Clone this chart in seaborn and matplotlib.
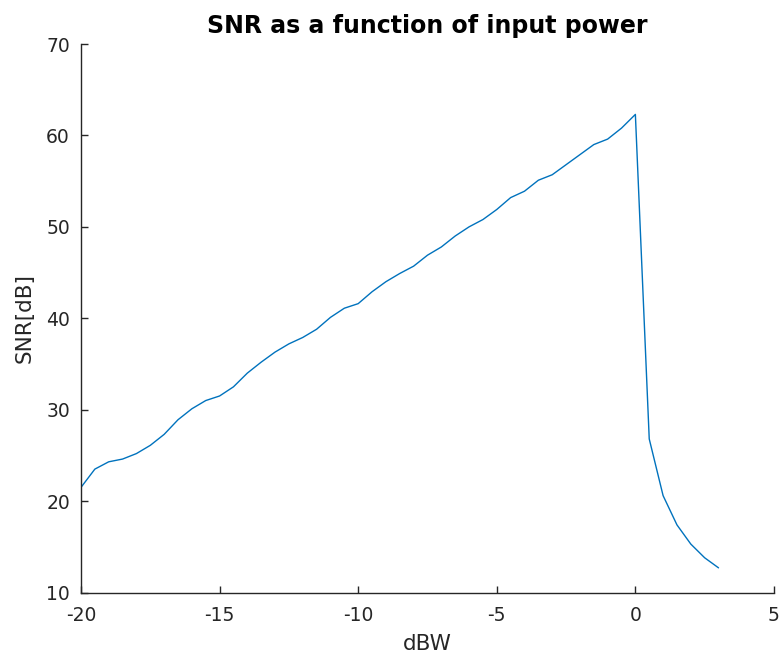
import numpy as np
import pandas as pd
import matplotlib
matplotlib.use("Agg")
import matplotlib.pyplot as plt
import seaborn as sns

input_power_dbw = [-20, -19.5, -19, -18.5, -18, -17.5, -17, -16.5, -16, -15.5,
                   -15, -14.5, -14, -13.5, -13, -12.5, -12, -11.5, -11, -10.5,
                   -10, -9.5, -9, -8.5, -8, -7.5, -7, -6.5, -6, -5.5,
                   -5, -4.5, -4, -3.5, -3, -2.5, -2, -1.5, -1, -0.5,
                   0, 0.5, 1, 1.5, 2, 2.5, 3]
snr_db = [21.5, 23.5, 24.3, 24.6, 25.2, 26.1, 27.3, 28.9, 30.1, 31.0,
          31.5, 32.5, 34.0, 35.2, 36.3, 37.2, 37.9, 38.8, 40.1, 41.1,
          41.6, 42.9, 44.0, 44.9, 45.7, 46.9, 47.8, 49.0, 50.0, 50.8,
          51.9, 53.2, 53.9, 55.1, 55.7, 56.8, 57.9, 59.0, 59.6, 60.8,
          62.3, 26.8, 20.6, 17.4, 15.3, 13.8, 12.7]

x_ticks = [-20, -15, -10, -5, 0, 5]
y_ticks = [10, 20, 30, 40, 50, 60, 70]

sns.set_style("ticks")
plt.rcParams['font.family'] = ['DejaVu Sans']

df = pd.DataFrame({"dBW": input_power_dbw, "SNR": snr_db})

fig = plt.figure(figsize=(7.81, 6.58), dpi=100)
ax = fig.add_axes([0.1037, 0.0995, 0.8873, 0.8336])
sns.lineplot(data=df, x="dBW", y="SNR", ax=ax, color="#0072BD", linewidth=1.0)

ax.set_xlim(-20, 5)
ax.set_ylim(10, 70)
ax.set_xticks(x_ticks)
ax.set_yticks(y_ticks)
ax.set_xticklabels([f"{t:g}" for t in x_ticks])
ax.set_yticklabels([f"{t:g}" for t in y_ticks])
ax.tick_params(direction="in", length=5, width=1.0, colors="#262626",
               labelsize=13.5, labelcolor="#262626")
ax.tick_params(axis="x", pad=10)
ax.tick_params(axis="y", pad=8)
for s in ["top", "right"]:
    ax.spines[s].set_visible(False)
for s in ["left", "bottom"]:
    ax.spines[s].set_color("#262626")
    ax.spines[s].set_linewidth(1.0)

ax.set_xlabel("dBW", fontsize=15.5, color="#262626", labelpad=6)
ax.set_ylabel("SNR[dB]", fontsize=15.5, color="#262626", labelpad=8)
ax.set_title("SNR as a function of input power", fontsize=17,
             fontweight="bold", color="black", pad=8)

fig.savefig("out.png", dpi=100)
